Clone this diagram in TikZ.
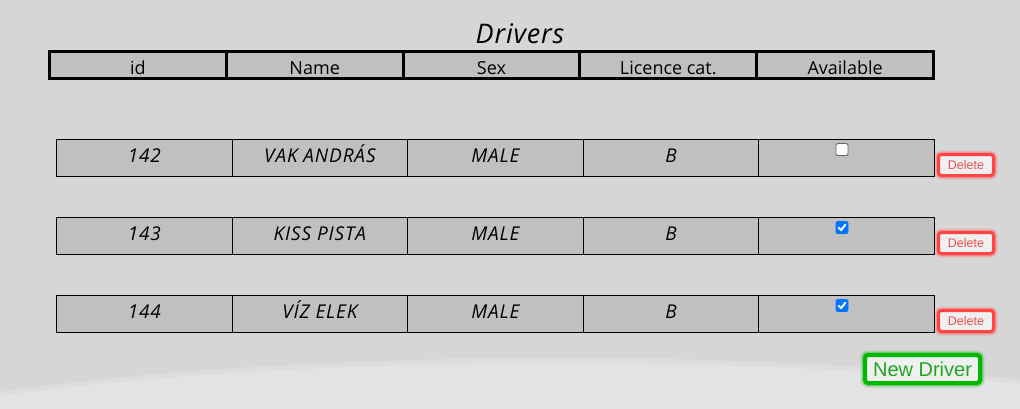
\documentclass[tikz,border=0pt]{standalone}
\usepackage{fontspec}
\setmainfont{Open Sans}
\newfontfamily\datafont[LetterSpace=4.5]{Open Sans}
\newfontfamily\titlefont[LetterSpace=3]{Open Sans}
\newfontfamily\arialf{Liberation Sans}
\definecolor{bggray}{HTML}{D6D6D6}
\definecolor{bglight}{HTML}{E3E3E3}
\definecolor{bgmid}{HTML}{DDDDDD}
\definecolor{cellgray}{HTML}{C0C0C0}
\definecolor{delred}{HTML}{FF4444}
\definecolor{deltext}{HTML}{F04E4E}
\definecolor{btnfill}{HTML}{F0F0F0}
\definecolor{newgreen}{HTML}{00B800}
\definecolor{newtext}{HTML}{1EA81E}
\definecolor{chkblue}{HTML}{0075FF}
\begin{document}
\begin{tikzpicture}[x=1pt,y=-1pt,
  hcell/.style={draw=black, line width=3pt, fill=cellgray, minimum width=176.8pt, minimum height=27pt,
    inner sep=0pt, outer sep=0pt, font=\fontsize{18}{18}\selectfont, text height=18pt, text depth=0pt},
  dcell/.style={draw=black, line width=1.2pt, fill=cellgray, minimum width=175.56pt, minimum height=36.8pt,
    inner sep=0pt, outer sep=0pt, font=\datafont\fontsize{19}{19}\selectfont\itshape, text height=13.6pt, text depth=5.6pt},
  delbtn/.style={draw=delred, line width=3pt, fill=btnfill, rounded corners=3pt,
    minimum width=55pt, minimum height=21pt, inner sep=0pt,
    preaction={draw=delred, draw opacity=0.18, line width=8pt},
    preaction={draw=delred, draw opacity=0.3, line width=5.5pt},
    text=deltext, font=\arialf\fontsize{12.5}{12.5}\selectfont},
  newbtn/.style={draw=newgreen, line width=4pt, fill=btnfill, rounded corners=3pt,
    minimum width=115pt, minimum height=28pt, inner sep=0pt,
    preaction={draw=newgreen, draw opacity=0.18, line width=9pt},
    preaction={draw=newgreen, draw opacity=0.3, line width=6.5pt},
    text=newtext, font=\arialf\fontsize{20}{20}\selectfont},
  chkoff/.style={draw=gray!80!black, line width=0.9pt, fill=white, rounded corners=2pt,
    minimum size=12pt, inner sep=0pt},
  chkon/.style={draw=chkblue, line width=0.9pt, fill=chkblue, rounded corners=2pt,
    minimum size=12pt, inner sep=0pt},
  tick/.style={draw=white, line width=2pt, line cap=round, line join=round}
]
\useasboundingbox (0,0) rectangle (1020,408);
\fill[bggray] (0,0) rectangle (1020,408);
\begin{scope}
  \clip (0,0) rectangle (1020,408);
  \fill[bgmid] (560,478) ellipse [x radius=806, y radius=120];
  \fill[bglight] (560,478) ellipse [x radius=800, y radius=115];
\end{scope}

% title
\node[anchor=base, font=\titlefont\fontsize{27}{27}\selectfont\itshape, inner sep=0pt] (title) at (520,43) {Drivers};

% header
\node[hcell] (h1) at (137.9,65) {id};
\node[hcell] (h2) at (314.7,65) {Name};
\node[hcell] (h3) at (491.5,65) {Sex};
\node[hcell] (h4) at (668.3,65) {Licence cat.};
\node[hcell] (h5) at (845.1,65) {Available};

% rows
\foreach \r/\y/\id/\nm in {1/158/142/VAK ANDRÁS, 2/236/143/KISS PISTA, 3/314/144/VÍZ ELEK}{
  \node[dcell] (r\r c1) at (144.4,\y) {\id};
  \node[dcell] (r\r c2) at (319.9,\y) {\nm};
  \node[dcell] (r\r c3) at (495.5,\y) {MALE};
  \node[dcell] (r\r c4) at (671.1,\y) {B};
  \node[dcell] (r\r c5) at (846.6,\y) {};
  \node[delbtn] (del\r) at (966,\y+7) {Delete};
}

% checkboxes
\node[chkoff] (chk1) at (842,149.5) {};
\node[chkon] (chk2) at (842,227.5) {};
\node[chkon] (chk3) at (842,305.5) {};
\draw[tick] ([shift={(-3.2,0.3)}]chk2.center) -- ([shift={(-0.8,2.6)}]chk2.center) -- ([shift={(3.3,-2.8)}]chk2.center);
\draw[tick] ([shift={(-3.2,0.3)}]chk3.center) -- ([shift={(-0.8,2.6)}]chk3.center) -- ([shift={(3.3,-2.8)}]chk3.center);

% new driver
\node[newbtn] (newdrv) at (922.5,369) {New Driver};
\end{tikzpicture}
\end{document}
